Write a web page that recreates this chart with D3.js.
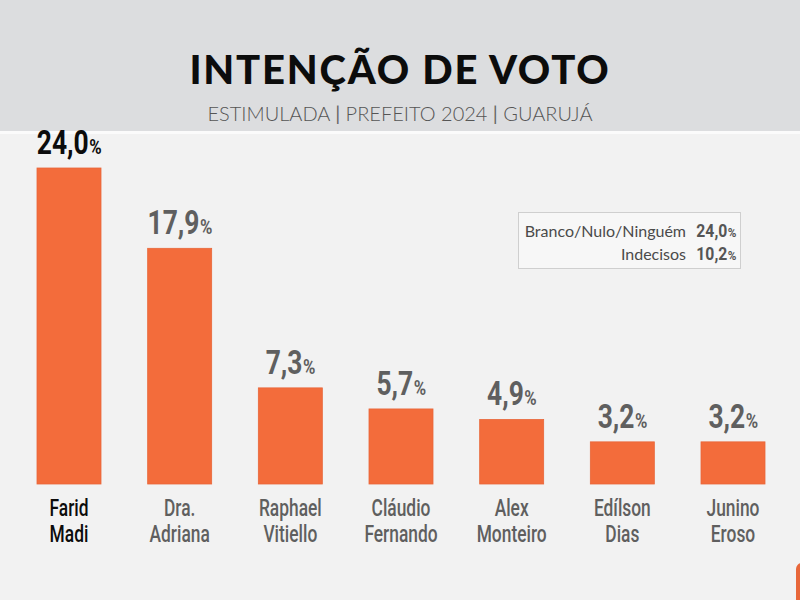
<!DOCTYPE html>
<html>
<head>
<meta charset="utf-8">
<script src="https://cdn.jsdelivr.net/npm/d3@7"></script>
<style>
  html, body { margin: 0; padding: 0; background: #f2f2f2; }
  svg { display: block; }
</style>
</head>
<body>
<svg id="chart" width="800" height="600"></svg>
<script>
const names = [["Farid", "Madi"], ["Dra.", "Adriana"], ["Raphael", "Vitiello"], ["Cláudio", "Fernando"], ["Alex", "Monteiro"], ["Edílson", "Dias"], ["Junino", "Eroso"]];
const values = [24.0, 17.9, 7.3, 5.7, 4.9, 3.2, 3.2];
const otherLabels = ["Branco/Nulo/Ninguém", "Indecisos"];
const otherValues = [24.0, 10.2];

const narrow = "Roboto, 'DejaVu Sans', sans-serif";
const fmt = (v) => v.toFixed(1).replace(".", ",");
const svg = d3.select("#chart");

// condensed-looking text: drawn at origin, then placed with translate + horizontal scale
function narrowText(g, str, size, color, weight) {
  return g.append("text").attr("font-family", narrow).attr("font-weight", weight)
    .attr("font-size", size).attr("fill", color).text(str);
}
const place = (t, px, py, k) => t.attr("transform", `translate(${px},${py}) scale(${k},1)`);

// number + small "%" as two texts; anchor "middle" or "end" at px
function percentLabel(g, value, px, py, big, small, k, color, anchor) {
  const num = narrowText(g, fmt(value), big, color, 700);
  const pct = narrowText(g, "%", small, color, 700);
  const wn = num.node().getComputedTextLength() * k;
  const wp = pct.node().getComputedTextLength() * k;
  const x0 = anchor === "end" ? px - wn - wp : px - (wn + wp) / 2;
  place(num, x0, py, k);
  place(pct, x0 + wn + 0.5, py, k);
}

svg.append("rect").attr("width", 800).attr("height", 600).attr("fill", "#f2f2f2");
svg.append("rect").attr("width", 800).attr("height", 131).attr("fill", "#dcdddf");
svg.append("rect").attr("y", 131).attr("width", 800).attr("height", 3).attr("fill", "#fbfbfb");

svg.append("text").attr("x", 400).attr("y", 84).attr("text-anchor", "middle")
  .attr("font-family", "Lato, 'Open Sans', sans-serif").attr("font-weight", 900)
  .attr("font-size", 40).attr("letter-spacing", 1.8).attr("fill", "#0c0c0c")
  .text("INTENÇÃO DE VOTO");

const sub = svg.append("text").attr("x", 400).attr("y", 121).attr("text-anchor", "middle")
  .attr("font-family", "Lato, 'Open Sans', sans-serif").attr("font-weight", 300)
  .attr("font-size", 20).attr("fill", "#555");
sub.append("tspan").text("ESTIMULADA ");
sub.append("tspan").attr("font-weight", 400).attr("fill", "#666").text("|");
sub.append("tspan").text(" PREFEITO 2024 ");
sub.append("tspan").attr("font-weight", 400).attr("fill", "#666").text("|");
sub.append("tspan").text(" GUARUJÁ");

const keys = names.map((n) => n.join(" "));
const x = d3.scaleBand().domain(keys).range([37, 765]).paddingInner(0.4217).paddingOuter(0);
const y = d3.scaleLinear().domain([0, 24]).range([484, 168]);
const cx = (k) => x(k) + x.bandwidth() / 2;

const data = keys.map((k, i) => ({ key: k, name: names[i], value: values[i], lead: i === 0 }));

svg.selectAll("rect.bar").data(data).join("rect").attr("class", "bar")
  .attr("x", (d) => x(d.key)).attr("width", x.bandwidth())
  .attr("y", (d) => y(d.value)).attr("height", (d) => y(0) - y(d.value))
  .attr("fill", "#f36c3b").attr("stroke", "#e8673a").attr("stroke-width", 0.8);

svg.selectAll("g.value").data(data).join("g").attr("class", "value")
  .each(function (d) {
    percentLabel(d3.select(this), d.value, cx(d.key), y(d.value) - 14, 33, 21, 0.8,
      d.lead ? "#0c0c0c" : "#5f5f5f", "middle");
  });

svg.selectAll("g.name").data(data).join("g").attr("class", "name")
  .each(function (d) {
    d.name.forEach((t, i) => {
      const txt = narrowText(d3.select(this), t, 23.5, d.lead ? "#0c0c0c" : "#5f5f5f", 500)
        .attr("text-anchor", "middle");
      place(txt, cx(d.key), 516 + i * 26, 0.74);
    });
  });

const box = svg.append("g");
box.append("rect").attr("x", 518.5).attr("y", 212.5).attr("width", 222).attr("height", 56)
  .attr("fill", "#f7f7f7").attr("stroke", "#cfcfcf");
otherLabels.forEach((label, i) => {
  box.append("text").attr("x", 686).attr("y", 237 + i * 23).attr("text-anchor", "end")
    .attr("font-family", "Lato, 'Open Sans', sans-serif").attr("font-weight", 400)
    .attr("font-size", 16).attr("fill", "#4a4a4a").text(label);
  percentLabel(box, otherValues[i], 736, 237 + i * 23, 17.5, 13, 0.9, "#555", "end");
});

// decoration at bottom right corner
svg.append("rect").attr("x", 796).attr("y", 563).attr("width", 12).attr("height", 60)
  .attr("rx", 6).attr("fill", "#e8673a");
</script>
</body>
</html>
